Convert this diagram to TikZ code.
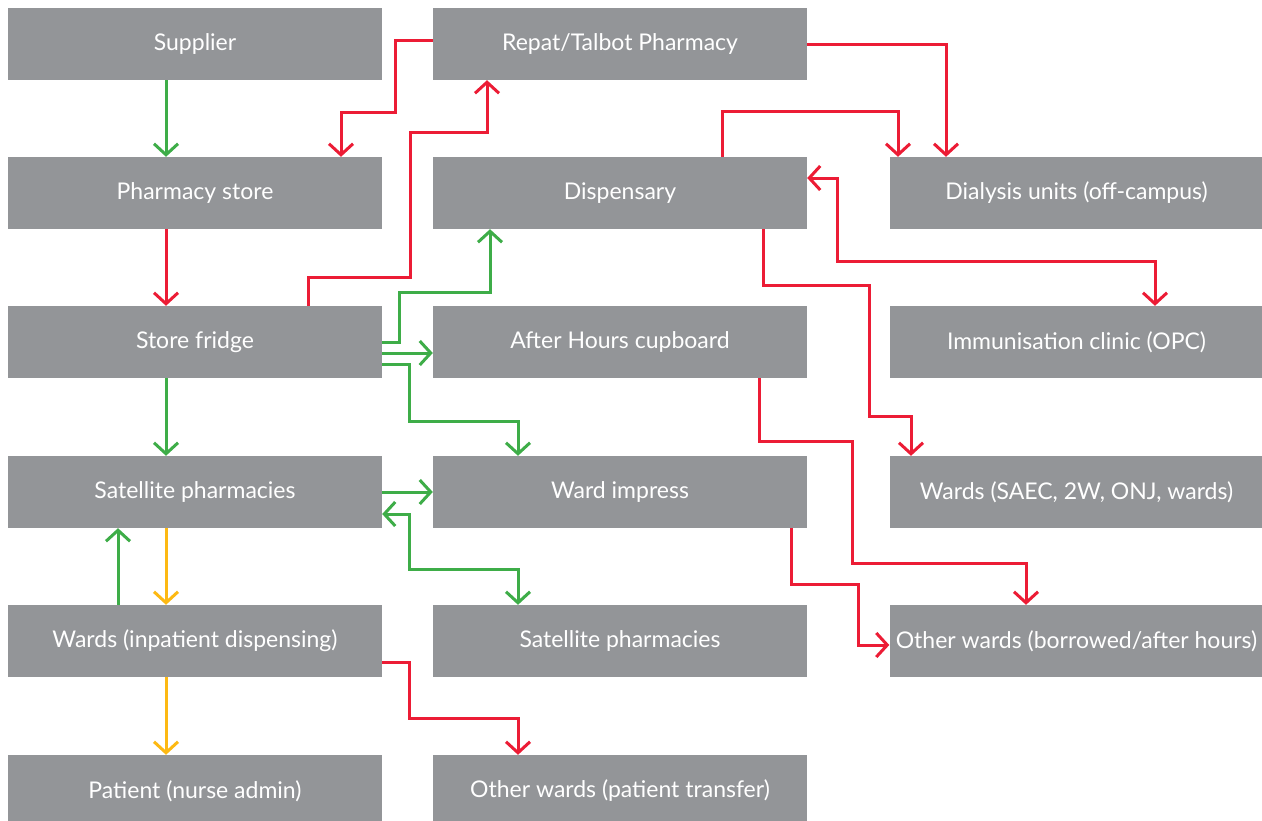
\documentclass[tikz,border=0pt]{standalone}
\usepackage{fontspec}
\setmainfont{Lato}
\usetikzlibrary{arrows.meta}
\definecolor{boxgray}{HTML}{939598}
\definecolor{fgreen}{HTML}{3EAD48}
\definecolor{fred}{HTML}{EC1C35}
\definecolor{fyellow}{HTML}{FDB913}
\tikzset{
  box/.style={fill=boxgray, draw=none, minimum width=374pt, minimum height=72pt, inner sep=0pt,
    text=white, font=\fontsize{23}{26}\selectfont},
  conn/.style={line width=3pt, -{Straight Barb[length=11pt,width=24pt]}},
  both/.style={line width=3pt, {Straight Barb[length=11pt,width=24pt]}-{Straight Barb[length=11pt,width=24pt]}},
  gr/.style={draw=fgreen},
  rd/.style={draw=fred},
  yl/.style={draw=fyellow},
}
\begin{document}
\begin{tikzpicture}[x=1pt,y=-1pt]
\clip (0,0) rectangle (1262,820);
\fill[white] (0,0) rectangle (1262,820);
% column 1
\node[box] (sup) at (195,44) {Supplier};
\node[box] (store) at (195,193) {Pharmacy store};
\node[box] (fridge) at (195,342) {Store fridge};
\node[box] (sat) at (195,492) {Satellite pharmacies};
\node[box] (wardsin) at (195,641) {Wards (inpatient dispensing)};
\node[box] (patient) at (195,791) {Patient (nurse admin)};
% column 2
\node[box] (repat) at (620,44) {Repat/Talbot Pharmacy};
\node[box] (disp) at (620,193) {Dispensary};
\node[box] (after) at (620,342) {After Hours cupboard};
\node[box] (imp) at (620,492) {Ward impress};
\node[box] (sat2) at (620,641) {Satellite pharmacies};
\node[box] (transfer) at (620,791) {Other wards (patient transfer)};
% column 3
\node[box] (dial) at (1076.5,193) {Dialysis units (off-campus)};
\node[box] (imm) at (1076.5,342) {Immunisation clinic (OPC)};
\node[box] (wsaec) at (1076.5,492) {Wards (SAEC, 2W, ONJ, wards)};
\node[box] (other) at (1076.5,641) {Other wards (borrowed/after hours)};

% column 1 vertical flow
\draw[conn,gr] ([xshift=-29pt]sup.south) -- ([xshift=-29pt]store.north);
\draw[conn,rd] ([xshift=-29pt]store.south) -- ([xshift=-29pt]fridge.north);
\draw[conn,gr] ([xshift=-29pt]fridge.south) -- ([xshift=-29pt]sat.north);
\draw[conn,yl] ([xshift=-29pt]sat.south) -- ([xshift=-29pt]wardsin.north);
\draw[conn,gr] ([xshift=-77pt]wardsin.north) -- ([xshift=-77pt]sat.south);
\draw[conn,yl] ([xshift=-29pt]wardsin.south) -- ([xshift=-29pt]patient.north);

% Repat <-> store/fridge
\draw[conn,rd] ([yshift=4pt]repat.west) -| (395,112) -| ([xshift=146pt]store.north);
\draw[conn,rd] ([xshift=113pt]fridge.north) |- (410,277) |- (487,132) -- ([xshift=-133pt]repat.south);

% Store fridge outputs
\draw[conn,gr] (fridge.east) -| (399,292) -| ([xshift=-130pt]disp.south);
\draw[conn,gr] ([yshift=-11pt]fridge.east) -- ([yshift=-11pt]after.west);
\draw[conn,gr] ([yshift=-22pt]fridge.east) -| (409,421) -| ([xshift=-102pt]imp.north);

% Satellite outputs
\draw[conn,gr] (sat.east) -- (imp.west);
\draw[both,gr] ([yshift=-22pt]sat.east) -| (409,569) -| ([xshift=-102pt]sat2.north);

% Wards inpatient -> transfer
\draw[conn,rd] ([yshift=-21pt]wardsin.east) -| (409,718) -| ([xshift=-102pt]transfer.north);

% to dialysis
\draw[conn,rd] (repat.east) -| ([xshift=-130.5pt]dial.north);
\draw[conn,rd] ([xshift=102pt]disp.north) |- (898,111) -- ([xshift=-178.5pt]dial.north);

% dispensary <-> immunisation
\draw[both,rd] ([yshift=15pt]disp.east) -| (837,261) -| ([xshift=78.5pt]imm.north);

% dispensary -> wards SAEC
\draw[conn,rd] ([xshift=143pt]disp.south) |- (869,285) |- (911,416) -- ([xshift=-165.5pt]wsaec.north);

% after hours -> other wards
\draw[conn,rd] ([xshift=139pt]after.south) |- (852,441) |- (1026,563) -- ([xshift=-50.5pt]other.north);

% ward impress -> other wards
\draw[conn,rd] ([xshift=171pt]imp.south) |- (858,584) |- ([yshift=-4pt]other.west);
\end{tikzpicture}
\end{document}
